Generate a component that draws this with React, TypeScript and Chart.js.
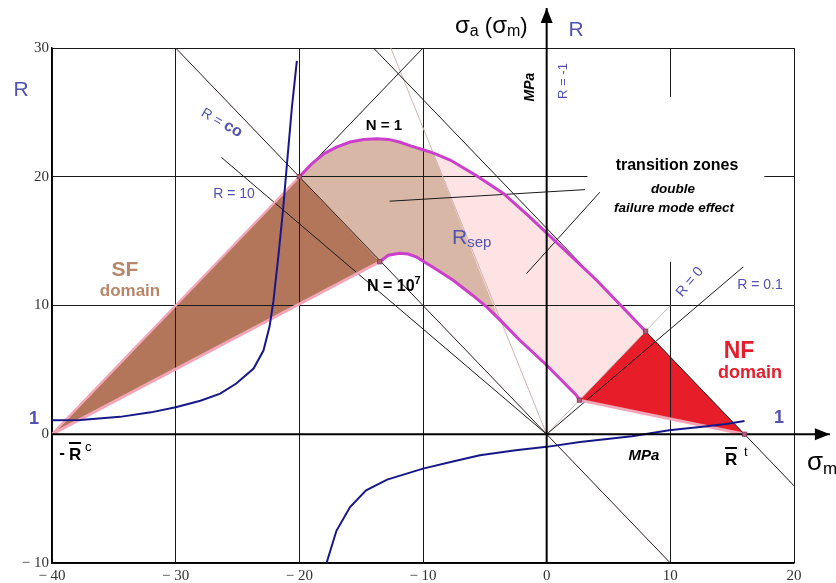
import React, { useEffect, useRef } from 'react';
import { Chart, registerables } from 'chart.js';

Chart.register(...registerables);

// ---------- axes ----------
const X_MIN = -40;
const X_MAX = 20;
const Y_MIN = -10;
const Y_MAX = 30;
const TICK_STEP = 10;

// ---------- curves (σm, σa) ----------
// N = 1 curve
const N1_X = [-20, -19, -18, -17, -15.9, -14.8, -13.75, -12.8, -11.9, -11, -10, -9.2, -7.8, -5.7, -3.5, -1.4, 0.8, 4, 8];
const N1_Y = [20, 21.0, 21.8, 22.3, 22.7, 22.9, 22.95, 22.9, 22.7, 22.4, 22.1, 21.85, 21.3, 20.1, 18.7, 16.9, 14.9, 12, 8];
// N = 10^7 curve
const N7_X = [-13.5, -12.8, -11.9, -11.2, -10.5, -9, -7.56, -6, -4.86, -3.9, -2.17, 0, 1.5, 2.4, 2.65];
const N7_Y = [13.4, 13.9, 14.05, 14.0, 13.75, 12.85, 11.96, 10.8, 9.89, 9.0, 7.3, 5.36, 3.9, 3.03, 2.65];
// SF domain triangle
const SF_X = [-40, -20, -13.5];
const SF_Y = [0, 20, 13.4];
// NF domain triangle
const NF_X = [2.65, 8, 16];
const NF_Y = [2.65, 8, 0];
// R_sep cut between the transition zones (on N=1 and on N=10^7)
const CUT_X = [-9.2, -3.9];
const CUT_Y = [21.85, 9.0];

// R curve (blue), two branches
const RU_X = [-40, -37.7, -34.5, -32, -30, -28, -26.4, -25.1, -23.7, -22.9, -22.4, -22.1, -21.7, -21.3, -21.0, -20.6, -20.2];
const RU_Y = [1.08, 1.1, 1.35, 1.7, 2.1, 2.6, 3.16, 3.94, 5.1, 6.5, 8.4, 10.3, 13.8, 17.6, 21.0, 25.4, 29.0];
const RL_X = [-17.8, -17.0, -15.9, -14.6, -12.9, -10.0, -7.5, -5.4, -2.5, 0, 2.7, 6.9, 9.9, 12.4, 14.5, 16.0];
const RL_Y = [-10, -7.5, -5.65, -4.35, -3.52, -2.67, -2.1, -1.63, -1.25, -0.98, -0.6, -0.16, 0.31, 0.57, 0.8, 1.03];

// straight reference lines
const R_INF_X = [-30, 10];
const R_INF_Y = [30, -10];
const R_10_X = [-26.3, 0];
const R_10_Y = [21.5, 0];
const R_SEP_X = [-12.6, 0];
const R_SEP_Y = [30, 0];
const R_0_X = [0, 10];
const R_0_Y = [0, 10];
const R_01_X = [0, 15.9];
const R_01_Y = [0, 13];
const SF_LINE_X = [-40, -10];
const SF_LINE_Y = [0, 30];
const NF_LINE_X = [-14, 20];
const NF_LINE_Y = [30, -4];
const LEAD1_X = [-12.7, 3.1];
const LEAD1_Y = [18.1, 19.0];
const LEAD2_X = [-1.63, 4.3];
const LEAD2_Y = [12.48, 18.8];
const YAXIS_X = [0, 0];
const YAXIS_Y = [-10, 33.1];
const XAXIS_X = [-40, 22.9];
const XAXIS_Y = [0, 0];
const MARK_X = [-20, -13.5, 2.65, 8, 16];
const MARK_Y = [20, 13.4, 2.65, 8, 0];

const pts = (xs: number[], ys: number[]) => xs.map((x, i) => ({ x, y: ys[i] }));

const SANS = 'Liberation Sans, Arial, sans-serif';
const BLUE = '#5252b2';
const MAGENTA = '#cc3fcc';
const PINK_EDGE = '#f2a6b8';

function txt(ctx: any, s: string, x: number, y: number, font: string, color: string, rot = 0, align = 'center') {
  ctx.save();
  ctx.translate(x, y);
  if (rot) ctx.rotate((rot * Math.PI) / 180);
  ctx.font = font;
  ctx.fillStyle = color;
  ctx.textAlign = align;
  ctx.textBaseline = 'middle';
  ctx.fillText(s, 0, 0);
  ctx.restore();
}

function runs(ctx: any, x: number, y: number, items: any[], rot = 0, center = false) {
  ctx.save();
  ctx.translate(x, y);
  if (rot) ctx.rotate((rot * Math.PI) / 180);
  ctx.textAlign = 'left';
  ctx.textBaseline = 'alphabetic';
  const widths = items.map((it) => {
    ctx.font = it[1];
    return ctx.measureText(it[0]).width;
  });
  const total = widths.reduce((a, b) => a + b, 0);
  let cx = center ? -total / 2 : 0;
  items.forEach((it, i) => {
    ctx.font = it[1];
    ctx.fillStyle = it[2];
    ctx.fillText(it[0], cx, it[3] || 0);
    cx += widths[i];
  });
  ctx.restore();
}

const annotPlugin = {
  id: 'annot',
  beforeDatasetsDraw(chart: any) {
    const { ctx, scales } = chart;
    const xs = scales.x;
    const ys = scales.y;
    const x0 = xs.getPixelForValue(3.3);
    const x1 = xs.getPixelForValue(17.6);
    const y0 = ys.getPixelForValue(26.2);
    const y1 = ys.getPixelForValue(13.4);
    ctx.save();
    ctx.fillStyle = '#ffffff';
    ctx.fillRect(x0, y0, x1 - x0, y1 - y0);
    ctx.restore();
  },
  afterDraw(chart: any) {
    const ctx = chart.ctx;
    const K = '#000000';
    const xs = chart.scales.x;
    const ys = chart.scales.y;
    // arrow heads at the ends of the axis lines
    const ty = { x: xs.getPixelForValue(YAXIS_X[1]), y: ys.getPixelForValue(YAXIS_Y[1]) };
    const tx = { x: xs.getPixelForValue(XAXIS_X[1]), y: ys.getPixelForValue(XAXIS_Y[1]) };
    ctx.save();
    ctx.fillStyle = K;
    ctx.beginPath();
    ctx.moveTo(ty.x, ty.y);
    ctx.lineTo(ty.x - 6, ty.y + 15);
    ctx.lineTo(ty.x + 6, ty.y + 15);
    ctx.closePath();
    ctx.fill();
    ctx.beginPath();
    ctx.moveTo(tx.x, tx.y);
    ctx.lineTo(tx.x - 15, tx.y - 6);
    ctx.lineTo(tx.x - 15, tx.y + 6);
    ctx.closePath();
    ctx.fill();
    ctx.restore();

    // top axis title σa(σm)
    runs(ctx, 455, 33, [
      ['σ', `24px ${SANS}`, K],
      ['a', `16px ${SANS}`, K, 3],
      [' (', `22px ${SANS}`, K],
      ['σ', `24px ${SANS}`, K],
      ['m', `16px ${SANS}`, K, 3],
      [')', `22px ${SANS}`, K],
    ]);
    txt(ctx, 'R', 576, 30, `21px ${SANS}`, BLUE);
    txt(ctx, 'R', 21, 90, `21px ${SANS}`, BLUE);
    txt(ctx, 'R = -1', 563, 81, `13px ${SANS}`, BLUE, -90);
    txt(ctx, 'MPa', 530, 87, `italic bold 14px ${SANS}`, K, -90);
    txt(ctx, 'N = 1', 384, 126, `bold 15px ${SANS}`, K);
    runs(ctx, 367, 291, [
      ['N = 10', `bold 16px ${SANS}`, K],
      ['7', `bold 11px ${SANS}`, K, -7],
    ]);
    runs(ctx, 452, 244, [
      ['R', `21px ${SANS}`, BLUE],
      ['sep', `15px ${SANS}`, BLUE, 3],
    ]);
    txt(ctx, 'transition zones', 677, 166, `bold 16px ${SANS}`, K);
    txt(ctx, 'double', 673, 189, `italic bold 13.5px ${SANS}`, K);
    txt(ctx, 'failure mode effect', 674, 208, `italic bold 13.5px ${SANS}`, K);
    // R = co (rotated)
    ctx.save();
    ctx.translate(222, 122);
    ctx.rotate((30 * Math.PI) / 180);
    runs(ctx, 0, 5, [
      ['R = ', `14px ${SANS}`, BLUE],
      ['co', `bold 16px ${SANS}`, BLUE],
    ], 0, true);
    ctx.restore();
    txt(ctx, 'R = 10', 234, 194, `14px ${SANS}`, BLUE);
    txt(ctx, 'SF', 125, 270, `bold 21px ${SANS}`, '#b8866a');
    txt(ctx, 'domain', 130, 291, `bold 17px ${SANS}`, '#b8866a');
    txt(ctx, 'NF', 739, 352, `bold 23px ${SANS}`, '#e41e2c');
    txt(ctx, 'domain', 750, 373, `bold 18px ${SANS}`, '#e41e2c');
    txt(ctx, 'R = 0', 690, 282, `14px ${SANS}`, BLUE, -50);
    txt(ctx, 'R = 0.1', 760, 285, `14px ${SANS}`, BLUE);
    txt(ctx, '1', 34, 419, `bold 18px ${SANS}`, BLUE);
    txt(ctx, '1', 779, 418, `bold 18px ${SANS}`, BLUE);
    // - R̄c
    txt(ctx, '-', 62, 453, `bold 17px ${SANS}`, K);
    runs(ctx, 69, 460, [['R', `bold 17px ${SANS}`, K]]);
    ctx.fillStyle = K;
    ctx.fillRect(69, 442, 12, 2);
    runs(ctx, 85, 451, [['c', `13px ${SANS}`, K]]);
    txt(ctx, 'MPa', 644, 456, `italic bold 15px ${SANS}`, K);
    // R̄t
    runs(ctx, 725, 465, [['R', `bold 17px ${SANS}`, K]]);
    ctx.fillStyle = K;
    ctx.fillRect(725, 447, 12, 2);
    runs(ctx, 744, 456, [['t', `13px ${SANS}`, K]]);
    // σm
    runs(ctx, 807, 470, [
      ['σ', `26px ${SANS}`, K],
      ['m', `17px ${SANS}`, K, 4],
    ]);
  },
};

const lineDs = (data: any[], color: string, width: number, extra: any = {}) => ({
  data,
  borderColor: color,
  backgroundColor: color,
  borderWidth: width,
  pointRadius: 0,
  showLine: true,
  fill: false,
  order: 0,
  ...extra,
});

export default function App() {
  const ref = useRef<HTMLCanvasElement>(null);

  useEffect(() => {
    const canvas = ref.current;
    if (!canvas) return;

    const n1 = pts(N1_X, N1_Y);
    const n7 = pts(N7_X, N7_Y);
    const sf = pts(SF_X, SF_Y);
    const nf = pts(NF_X, NF_Y);
    const cut = pts(CUT_X, CUT_Y);

    const pinkUpper = n1;
    const pinkLower = [sf[1], ...n7, nf[1]];
    const tanUpper = [...n1.filter((p) => p.x <= cut[0].x), cut[1]];
    const tanLower = [sf[1], ...n7.filter((p) => p.x <= cut[1].x)];
    const sfUpper = sf;
    const sfLower = [sf[0], sf[2]];
    const nfUpper = nf;
    const nfLower = [nf[0], nf[2]];

    const datasets: any[] = [
      // 0..7 fills
      lineDs(pinkUpper, 'rgba(0,0,0,0)', 0, { fill: 1, backgroundColor: '#fde3e4', order: 4 }),
      lineDs(pinkLower, 'rgba(0,0,0,0)', 0),
      lineDs(tanUpper, 'rgba(0,0,0,0)', 0, { fill: 3, backgroundColor: '#d8b7a6', order: 3 }),
      lineDs(tanLower, 'rgba(0,0,0,0)', 0),
      lineDs(sfUpper, 'rgba(0,0,0,0)', 0, { fill: 5, backgroundColor: '#b3765a', order: 2 }),
      lineDs(sfLower, 'rgba(0,0,0,0)', 0),
      lineDs(nfUpper, 'rgba(0,0,0,0)', 0, { fill: 7, backgroundColor: '#e81d2a', order: 1 }),
      lineDs(nfLower, 'rgba(0,0,0,0)', 0),
      // markers and axis lines (top)
      {
        data: pts(MARK_X, MARK_Y),
        showLine: false,
        pointStyle: 'rect',
        pointRadius: 3,
        backgroundColor: '#b0607e',
        borderColor: '#8a3a5a',
        borderWidth: 1,
        order: 0,
      },
      lineDs(pts(YAXIS_X, YAXIS_Y), '#000', 2, { clip: false }),
      lineDs(pts(XAXIS_X, XAXIS_Y), '#000', 2, { clip: false }),
      // R curve
      lineDs(pts(RU_X, RU_Y), '#17178a', 2),
      lineDs(pts(RL_X, RL_Y), '#17178a', 2),
      // N curves
      lineDs(pts(N1_X, N1_Y), MAGENTA, 3),
      lineDs(pts(N7_X, N7_Y), MAGENTA, 3),
      // pink edges
      lineDs(sfLower, PINK_EDGE, 3),
      lineDs(nfLower, PINK_EDGE, 3),
      lineDs(sfUpper.slice(0, 2), PINK_EDGE, 2.5),
      // black thin lines
      lineDs(pts(SF_LINE_X, SF_LINE_Y), '#1a1a1a', 1),
      lineDs(pts(NF_LINE_X, NF_LINE_Y), '#1a1a1a', 1),
      lineDs(pts(R_INF_X, R_INF_Y), '#2a1a1a', 1),
      lineDs(pts(R_10_X, R_10_Y), '#1a1a1a', 1),
      lineDs(pts(R_01_X, R_01_Y), '#1a1a1a', 1),
      lineDs(pts(LEAD1_X, LEAD1_Y), '#1a1a1a', 1),
      lineDs(pts(LEAD2_X, LEAD2_Y), '#1a1a1a', 1),
      // light lines
      lineDs(pts(R_SEP_X, R_SEP_Y), '#d2b2ac', 1),
      lineDs(pts(R_0_X, R_0_Y), '#c9b9bb', 1),
    ];

    const tickFmt = (v: any) => (v < 0 ? '\u2212 ' + Math.abs(v) : String(v));

    const chart = new Chart(canvas, {
      type: 'scatter',
      data: { datasets },
      plugins: [annotPlugin],
      options: {
        responsive: false,
        animation: false,
        devicePixelRatio: 1,
        events: [],
        layout: { padding: { left: 0, right: 42, top: 48, bottom: 0 } },
        plugins: {
          legend: { display: false },
          tooltip: { enabled: false },
          filler: { drawTime: 'beforeDraw' },
        },
        scales: {
          x: {
            type: 'linear',
            min: X_MIN,
            max: X_MAX,
            afterFit: (s: any) => {
              s.height = 20;
            },
            ticks: {
              stepSize: TICK_STEP,
              autoSkip: false,
              maxRotation: 0,
              padding: 4,
              color: '#333',
              font: { family: 'Liberation Serif', size: 15 },
              callback: tickFmt,
            },
            grid: { color: '#1a1a1a', lineWidth: 1, drawTicks: false },
            border: { color: '#000', width: 1.5 },
          },
          y: {
            type: 'linear',
            min: Y_MIN,
            max: Y_MAX,
            afterFit: (s: any) => {
              s.width = 52;
            },
            ticks: {
              stepSize: TICK_STEP,
              autoSkip: false,
              padding: 3,
              color: '#333',
              font: { family: 'Liberation Serif', size: 15 },
              callback: tickFmt,
            },
            grid: { color: '#1a1a1a', lineWidth: 1, drawTicks: false },
            border: { color: '#000', width: 1.5 },
          },
        },
      } as any,
    });

    return () => chart.destroy();
  }, []);

  return (
    <div style={{ position: 'absolute', left: 0, top: 0, width: 836, height: 583, background: '#fff' }}>
      <canvas ref={ref} width={836} height={583} style={{ display: 'block' }} />
    </div>
  );
}
